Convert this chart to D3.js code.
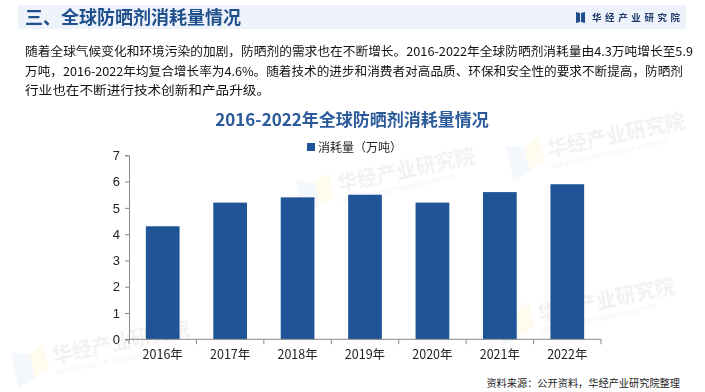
<!DOCTYPE html>
<html>
<head>
<meta charset="utf-8">
<script src="https://cdn.jsdelivr.net/npm/d3@7"></script>
<style>
  body { margin: 0; background: #fff; }
  svg { display: block; font-family: "Noto Sans CJK SC", "Noto Sans", sans-serif; }
</style>
</head>
<body>
<script>
const m = { width: 705, height: 392 }

// chart data
const years = ['2016年', '2017年', '2018年', '2019年', '2020年', '2021年', '2022年']
const consumption = [4.3, 5.2, 5.4, 5.5, 5.2, 5.6, 5.9]
const yTicks = [0, 1, 2, 3, 4, 5, 6, 7]
const seriesName = '消耗量（万吨）'

const paragraph = [
    '随着全球气候变化和环境污染的加剧，防晒剂的需求也在不断增长。2016-2022年全球防晒剂消耗量由4.3万吨增长至5.9',
    '万吨，2016-2022年均复合增长率为4.6%。随着技术的进步和消费者对高品质、环保和安全性的要求不断提高，防晒剂',
    '行业也在不断进行技术创新和产品升级。'
]
const lineWidths = [668, 658, 245]

const svg = d3.select('body').append('svg')
    .attr('width', m.width)
    .attr('height', m.height)

// faint watermarks
const marks = [[15, 372], [300, 200], [510, 165], [500, 330]]
const wm = svg.append('g').attr('opacity', 0.07)
marks.forEach(function(p) {
    const g = wm.append('g').attr('transform', `translate(${p[0]},${p[1]}) rotate(-12)`)
    g.append('path').attr('d', 'M0,-20 L18,-14 L18,10 L0,16 Z').attr('fill', '#5b8bd0')
    g.append('path').attr('d', 'M18,-14 L34,-22 L34,4 L18,10 Z').attr('fill', '#f5c400')
    g.append('text').attr('x', 40).attr('y', 0)
        .attr('font-size', 20).attr('font-weight', 'bold').attr('fill', '#333')
        .text('华经产业研究院')
    g.append('text').attr('x', 40).attr('y', 12)
        .attr('font-size', 6).attr('fill', '#333')
        .text('HUAJING INDUSTRY RESEARCH INSTITUTE')
})

// header band
svg.append('rect')
    .attr('x', 18).attr('y', 5).attr('width', 668).attr('height', 24)
    .attr('fill', '#eef3fb')
svg.append('text')
    .attr('x', 25).attr('y', 24)
    .attr('font-size', 18).attr('font-weight', 'bold').attr('fill', '#1f4e8c')
    .text('三、全球防晒剂消耗量情况')

// logo
svg.append('path').attr('d', 'M576,12 L580,13 L580,22 L576,23 Z').attr('fill', '#1f4e8c')
svg.append('path').attr('d', 'M581,13 L585,12 L585,23 L581,22 Z').attr('fill', '#1f4e8c')
svg.append('text')
    .attr('x', 592).attr('y', 21)
    .attr('font-size', 9.5).attr('font-weight', 'bold').attr('fill', '#1f3a66')
    .attr('letter-spacing', 3.6)
    .text('华经产业研究院')

// paragraph
svg.append('g').selectAll('text')
    .data(paragraph)
    .enter()
    .append('text')
        .attr('x', 25)
        .attr('y', function(d, i) { return 56 + i * 19.5 })
        .attr('font-size', 12.4)
        .attr('fill', '#111')
        .attr('textLength', function(d, i) { return lineWidths[i] })
        .attr('lengthAdjust', 'spacingAndGlyphs')
        .text(function(d) { return d })

// chart title
svg.append('text')
    .attr('x', 352).attr('y', 126)
    .attr('text-anchor', 'middle')
    .attr('font-size', 17).attr('font-weight', 'bold').attr('fill', '#2a5a9a')
    .text('2016-2022年全球防晒剂消耗量情况')

// legend
svg.append('rect')
    .attr('x', 307).attr('y', 143).attr('width', 8).attr('height', 8)
    .attr('fill', '#1f5597')
svg.append('text')
    .attr('x', 318).attr('y', 151.5)
    .attr('font-size', 12).attr('fill', '#222')
    .text(seriesName)

// scales
const x = d3.scaleBand()
    .domain(years)
    .range([129, 601])
    .paddingInner(0.5)
    .paddingOuter(0.25)

const y = d3.scaleLinear()
    .domain([0, 7])
    .range([339.3, 155.3])

// bars
svg.append('g').selectAll('rect')
    .data(consumption)
    .enter()
    .append('rect')
        .attr('x', function(d, i) { return x(years[i]) })
        .attr('y', function(d) { return y(d) })
        .attr('width', x.bandwidth())
        .attr('height', function(d) { return y(0) - y(d) })
        .attr('fill', '#1f5597')

// y axis
const yAxis = svg.append('g')
    .attr('transform', 'translate(129,0)')
    .call(d3.axisLeft(y).tickValues(yTicks).tickFormat(d3.format('d')).tickSize(4).tickPadding(5))
yAxis.selectAll('line, path').attr('stroke', '#888')
yAxis.selectAll('text')
    .attr('font-family', '"Liberation Sans", Arial, sans-serif')
    .attr('font-size', 13).attr('fill', '#222')

// x axis with ticks at band edges
const xAxis = svg.append('g')
    .attr('transform', `translate(0,${y(0)})`)
xAxis.append('line')
    .attr('x1', 129).attr('x2', 601)
    .attr('stroke', '#888')
const edges = years.map(function(d) { return x(d) - x.step() * x.paddingInner() / 2 })
edges.push(601)
xAxis.selectAll('.tick')
    .data(edges)
    .enter()
    .append('line')
        .attr('x1', function(d) { return d }).attr('x2', function(d) { return d })
        .attr('y1', 0).attr('y2', 5)
        .attr('stroke', '#888')
xAxis.selectAll('.lbl')
    .data(years)
    .enter()
    .append('text')
        .attr('x', function(d) { return x(d) + x.bandwidth() / 2 })
        .attr('y', 20)
        .attr('text-anchor', 'middle')
        .attr('font-size', 12.5).attr('fill', '#222')
        .text(function(d) { return d })

// source
svg.append('text')
    .attr('x', 680).attr('y', 387)
    .attr('text-anchor', 'end')
    .attr('font-size', 10.2).attr('fill', '#222')
    .text('资料来源：公开资料，华经产业研究院整理')
</script>
</body>
</html>
